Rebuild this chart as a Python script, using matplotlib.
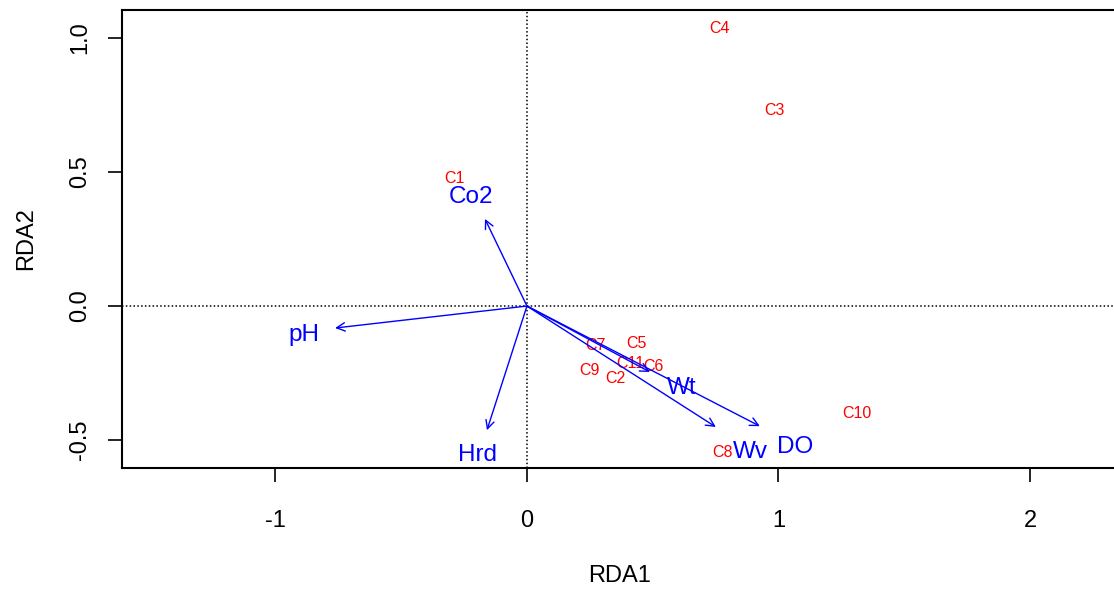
import matplotlib.pyplot as plt

plt.rcParams['font.family'] = ['Liberation Sans', 'DejaVu Sans']

# site scores (red labels)
sites = ['C1', 'C2', 'C3', 'C4', 'C5', 'C6', 'C7', 'C8', 'C9', 'C10', 'C11']
site_x = [-0.290, 0.350, 0.986, 0.767, 0.437, 0.501, 0.274, 0.779, 0.247, 1.312, 0.410]
site_y = [0.474, -0.272, 0.731, 1.034, -0.138, -0.224, -0.149, -0.548, -0.239, -0.399, -0.213]

# environmental arrows (blue)
env = ['Co2', 'pH', 'Hrd', 'Wt', 'Wv', 'DO']
env_x = [-0.167, -0.763, -0.159, 0.489, 0.751, 0.926]
env_y = [0.325, -0.082, -0.463, -0.246, -0.451, -0.448]
env_lab_x = [-0.223, -0.887, -0.195, 0.616, 0.887, 1.066]
env_lab_y = [0.407, -0.108, -0.556, -0.306, -0.545, -0.526]

fig = plt.figure(figsize=(11.14, 5.89), dpi=100)
ax = fig.add_axes([122 / 1114, 1 - 468 / 589, (1117 - 122) / 1114, (468 - 10) / 589])

ax.axhline(0, color='black', linestyle=(0, (1, 1.5)), linewidth=1.1)
ax.axvline(0, color='black', linestyle=(0, (1, 1.5)), linewidth=1.1)

for name, x, y in zip(sites, site_x, site_y):
    ax.text(x, y, name, color='red', fontsize=11.5, ha='center', va='center')

for x, y in zip(env_x, env_y):
    ax.annotate('', xy=(x, y), xytext=(0, 0),
                arrowprops=dict(arrowstyle='->,head_length=0.6,head_width=0.3',
                                color='blue', lw=1, shrinkA=0, shrinkB=0))
for name, x, y in zip(env, env_lab_x, env_lab_y):
    ax.text(x, y, name, color='blue', fontsize=17.5, ha='center', va='center')

ax.set_xlim(-1.61, 2.346)
ax.set_ylim(-0.604, 1.104)
ax.set_xticks([-1, 0, 1, 2])
ax.set_xticklabels(['-1', '0', '1', '2'])
ax.set_yticks([-0.5, 0.0, 0.5, 1.0])
ax.set_yticklabels(['-0.5', '0.0', '0.5', '1.0'], rotation=90, va='center')
ax.tick_params(labelsize=17, length=10, width=1.2)
ax.tick_params(axis='x', pad=20)
ax.tick_params(axis='y', pad=12)
for s in ax.spines.values():
    s.set_linewidth(1.5)
ax.set_xlabel('RDA1', fontsize=17, labelpad=24)
ax.set_ylabel('RDA2', fontsize=17, labelpad=23)

fig.savefig('out.png', dpi=100)
